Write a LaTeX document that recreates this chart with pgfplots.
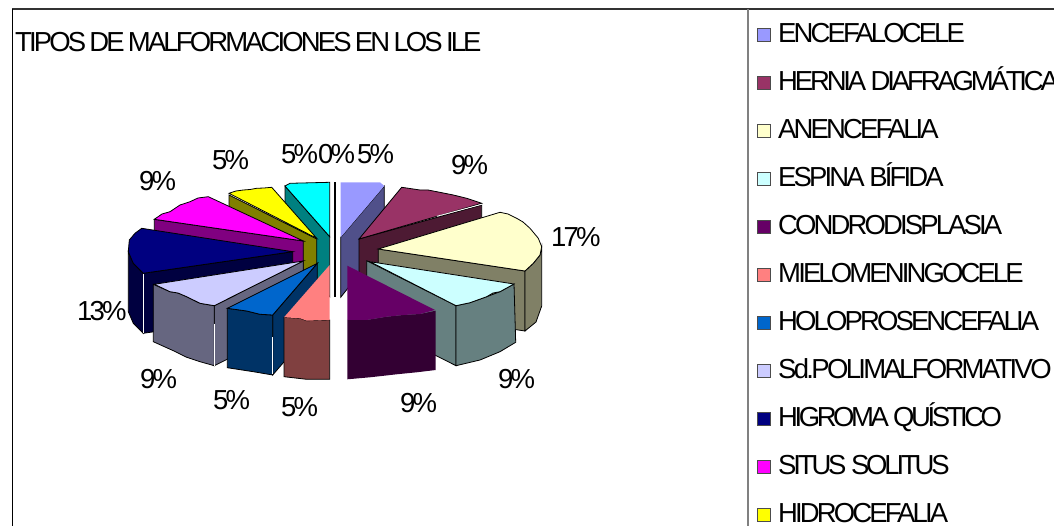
\documentclass[border=0pt]{standalone}
\usepackage{fontspec}
\setmainfont[LetterSpace=-10.5]{Liberation Sans}
\usepackage{pgfplots}
\pgfplotsset{compat=1.18}
\definecolor{cA}{HTML}{9999FF}\definecolor{wA}{HTML}{50508A}
\definecolor{cB}{HTML}{993366}\definecolor{wB}{HTML}{4D1A33}
\definecolor{cC}{HTML}{FFFFCC}\definecolor{wC}{HTML}{808066}
\definecolor{cD}{HTML}{CCFFFF}\definecolor{wD}{HTML}{668080}
\definecolor{cE}{HTML}{660066}\definecolor{wE}{HTML}{330033}
\definecolor{cF}{HTML}{FF8080}\definecolor{wF}{HTML}{804040}
\definecolor{cG}{HTML}{0066CC}\definecolor{wG}{HTML}{003366}
\definecolor{cH}{HTML}{CCCCFF}\definecolor{wH}{HTML}{666680}
\definecolor{cI}{HTML}{000080}\definecolor{wI}{HTML}{000040}
\definecolor{cJ}{HTML}{FF00FF}\definecolor{wJ}{HTML}{800080}
\definecolor{cK}{HTML}{FFFF00}\definecolor{wK}{HTML}{808000}
\definecolor{cL}{HTML}{00FFFF}\definecolor{wL}{HTML}{008080}
\newcommand{\T}{\fontsize{27.5}{30}\selectfont}
\tikzset{lbl/.style={anchor=base west,inner sep=0pt,font=\T}}
\begin{document}
\begin{tikzpicture}
\clip (0,0) rectangle (1054pt,526pt);
\begin{axis}[at={(0,0)},anchor=south west,scale only axis,width=1054pt,height=526pt,
  xmin=0,xmax=1054,ymin=0,ymax=526,y dir=reverse,axis lines=none,clip=false,
  every axis plot/.append style={line width=0.8pt}]
% frame
\addplot[color=black!80,line width=2pt] coordinates {(12,9) (1054,9)};
\addplot[color=black,line width=1.2pt] coordinates {(12.5,9) (12.5,526)};
\addplot[color=black!50,line width=2pt] coordinates {(747.5,9) (747.5,526)};
% 0 %
\addplot[color=black,line width=1.6pt] coordinates {(335,182.3) (335,296.7)};
% cyan 5%
\addplot[fill=wL,draw=black] coordinates {(285,186) (329.7,236.7) (329.7,296.7) (285,246)} -- cycle;
\addplot[fill=cL,draw=black] coordinates {(329.7,236.7) (285,186) (290,183.3) (329.7,182.3)} -- cycle;
% encefalocele
\addplot[fill=wA,draw=black] coordinates {(384.3,186) (340.7,237.3) (340.7,297.3) (358.3,275) (384.3,246)} -- cycle;
\addplot[fill=cA,draw=none] coordinates {(340.7,182.3) (380,182.3) (384.3,186) (340.7,237.3)} -- cycle;
% hernia
\addplot[fill=wB,draw=black] coordinates {(359,239) (481.7,205) (481.7,265) (359,299)} -- cycle;
\addplot[fill=cB,draw=black] coordinates {(359,239) (401.7,187.3) (420,190) (428,190) (436.7,191.7) (453.3,195) (466.7,198.3) (481.7,203.3)} -- cycle;
\addplot[color=white,line width=0.8pt] coordinates {(436.7,216.3) (481.7,204.3)};
% yellow
\addplot[fill=wK,draw=black] coordinates {(229,195) (316.7,239) (316.7,299) (229,255)} -- cycle;
\addplot[fill=cK,draw=black] coordinates {(316.7,238.3) (229,193.3) (236,191) (243.3,190) (250,189.5) (256.7,188.3) (264,188) (271.7,187.3)} -- cycle;
% magenta
\addplot[fill=wJ,draw=black] coordinates {(154.3,219.3) (303.3,241) (303.3,301) (154.3,279.3)} -- cycle;
\addplot[fill=cJ,draw=black] coordinates {(303.3,241) (154.3,219.3) (162,214) (170,211.7) (180,205) (190,201.7) (198,198) (208.3,196.7)} -- cycle;
% higroma
\addplot[fill=wI,draw=black] coordinates {(292.7,251.7) (143.3,273.3) (143.3,333.3) (292.7,311.7)} -- cycle;
\addplot[fill=wI,draw=black] coordinates {(128.3,251.7) (133.3,263.3) (143.3,273.3) (143.3,333.3) (133.3,323.3) (128.3,311.7)} -- cycle;
\addplot[fill=cI,draw=black] coordinates {(292.7,251.7) (143.3,273.3) (133.3,263.3) (128.3,251.7) (129.3,240) (135,233.3) (141.7,228.3)} -- cycle;
\addplot[color=white,line width=1pt] coordinates {(143.5,274) (143.5,333.3)};
% Sd
\addplot[fill=wH,draw=black] coordinates {(303.3,261) (214.3,305.7) (214.3,365.7) (303.3,321)} -- cycle;
\addplot[fill=wH,draw=black] coordinates {(153.3,284.3) (170,291.7) (178,293) (186.7,296.7) (200,303.3) (214.3,305.7) (214.3,365.7) (200,361.7) (186,357) (173.3,350.7) (153.3,341.7)} -- cycle;
\addplot[fill=cH,draw=black] coordinates {(303.3,261) (214.3,305.7) (200,303.3) (186.7,296.7) (178,293) (170,291.7) (154.3,284.3)} -- cycle;
\addplot[color=white,line width=1pt] coordinates {(214.6,324) (214.6,365.7)};
% holo
\addplot[fill=wG,draw=black] coordinates {(317.3,263.3) (272.7,315) (272.7,375) (317.3,323.3)} -- cycle;
\addplot[fill=wG,draw=black] coordinates {(227.3,308.3) (246.7,311) (260,314.3) (272.7,315) (272.7,375) (253.3,371.7) (227.3,367.7)} -- cycle;
\addplot[fill=cG,draw=black] coordinates {(317.3,263.3) (272.7,315) (260,314.3) (246.7,311) (227.3,308.3)} -- cycle;
\addplot[color=white,line width=1pt] coordinates {(272.5,337) (272.5,374)};
% mielo
\addplot[fill=wF,draw=black] coordinates {(284,317.3) (300,318.3) (306.7,320.7) (329.7,320) (329.7,379.3) (306.7,379.3) (284,376.7)} -- cycle;
\addplot[fill=cF,draw=none] coordinates {(329.7,265) (329.7,320) (306.7,320.7) (300,318.3) (284,317.3)} -- cycle;
% anencefalia
\addplot[fill=wC,draw=black] coordinates {(378.3,249) (525,271) (525,331) (378.3,309)} -- cycle;
\addplot[fill=wC,draw=black] coordinates {(525,271) (533.3,263.3) (540,255) (541.7,246.7) (541.7,306) (536,322) (525,331)} -- cycle;
\addplot[fill=cC,draw=black] coordinates {(378.3,249) (500,212.3) (508,214) (516.7,218.3) (523,222) (530,228.3) (538.3,238.3) (541.7,246.7) (540,255) (533.3,263.3) (525,271)} -- cycle;
% espina
\addplot[fill=wD,draw=black] coordinates {(366.7,260.7) (456,305.7) (456,365.7) (366.7,320.7)} -- cycle;
\addplot[fill=wD,draw=black] coordinates {(456,305.7) (470,302.7) (486.7,296.7) (500,291.7) (514,284) (515.7,342.3) (500,351.7) (480,360) (456,365.7)} -- cycle;
\addplot[fill=cD,draw=black] coordinates {(370,261.7) (514,284) (500,291.7) (493,293) (486.7,296.7) (470,302.7) (456,305.7)} -- cycle;
% condro
\addplot[fill=wE,draw=none] coordinates {(347.3,320) (366.7,320) (386.7,316.7) (403.3,315) (420,314) (435.7,310.7) (435.7,370) (416.7,372.3) (396.7,374.3) (370,377.3) (347.3,379.3)} -- cycle;
\addplot[fill=cE,draw=none] coordinates {(347.3,265.7) (435,310) (420,314) (403.3,315) (386.7,316.7) (366.7,320) (347.3,320)} -- cycle;
% legend markers
\addplot[only marks,mark=square*,mark size=6.5pt,mark options={fill=cA,draw=black!70}] coordinates {(763.5,35)};
\addplot[only marks,mark=square*,mark size=6.5pt,mark options={fill=cB,draw=black!70}] coordinates {(763.5,83)};
\addplot[only marks,mark=square*,mark size=6.5pt,mark options={fill=cC,draw=black!70}] coordinates {(763.5,131)};
\addplot[only marks,mark=square*,mark size=6.5pt,mark options={fill=cD,draw=black!70}] coordinates {(763.5,179)};
\addplot[only marks,mark=square*,mark size=6.5pt,mark options={fill=cE,draw=black!70}] coordinates {(763.5,227)};
\addplot[only marks,mark=square*,mark size=6.5pt,mark options={fill=cF,draw=black!70}] coordinates {(763.5,275)};
\addplot[only marks,mark=square*,mark size=6.5pt,mark options={fill=cG,draw=black!70}] coordinates {(763.5,323)};
\addplot[only marks,mark=square*,mark size=6.5pt,mark options={fill=cH,draw=black!70}] coordinates {(763.5,371)};
\addplot[only marks,mark=square*,mark size=6.5pt,mark options={fill=cI,draw=black!70}] coordinates {(763.5,419)};
\addplot[only marks,mark=square*,mark size=6.5pt,mark options={fill=cJ,draw=black!70}] coordinates {(763.5,467)};
\addplot[only marks,mark=square*,mark size=6.5pt,mark options={fill=cK,draw=black!70}] coordinates {(763.5,515)};
% text
\node[lbl] at (axis cs:15,51.7) {TIPOS\kern-1.5pt{} DE\kern-1.5pt{} MALFORMACIONES\kern-1.5pt{} EN\kern-1.5pt{} LOS\kern-1.5pt{} ILE};
\node[lbl] at (axis cs:778,42.7) {ENCEFALOCELE};
\node[lbl] at (axis cs:778,90.7) {\addfontfeature{LetterSpace=-11.5}HERNIA DIAFRAGMÁTICA};
\node[lbl] at (axis cs:778,138.7) {ANENCEFALIA};
\node[lbl] at (axis cs:778,186.7) {ESPINA BÍFIDA};
\node[lbl] at (axis cs:778,234.7) {CONDRODISPLASIA};
\node[lbl] at (axis cs:778,282.7) {MIELOMENINGOCELE};
\node[lbl] at (axis cs:778,330.7) {HOLOPROSENCEFALIA};
\node[lbl] at (axis cs:778,378.7) {\addfontfeature{LetterSpace=-9.8}Sd.POLIMALFORMATIVO};
\node[lbl] at (axis cs:778,426.7) {\addfontfeature{LetterSpace=-12.5}HIGROMA QUÍSTICO};
\node[lbl] at (axis cs:778,474.7) {\addfontfeature{LetterSpace=-11.5}SITUS SOLITUS};
\node[lbl] at (axis cs:778,522) {HIDROCEFALIA};
\node[lbl] at (axis cs:281,164) {5\%};
\node[lbl] at (axis cs:318,164) {0\%};
\node[lbl] at (axis cs:357,164) {5\%};
\node[lbl] at (axis cs:451,175) {9\%};
\node[lbl] at (axis cs:551,247) {17\%};
\node[lbl] at (axis cs:498,388) {9\%};
\node[lbl] at (axis cs:400,412) {9\%};
\node[lbl] at (axis cs:281,416) {5\%};
\node[lbl] at (axis cs:213,409) {5\%};
\node[lbl] at (axis cs:140,388) {9\%};
\node[lbl] at (axis cs:77,320) {13\%};
\node[lbl] at (axis cs:139,191) {9\%};
\node[lbl] at (axis cs:212,170) {5\%};
\end{axis}
\end{tikzpicture}
\end{document}
